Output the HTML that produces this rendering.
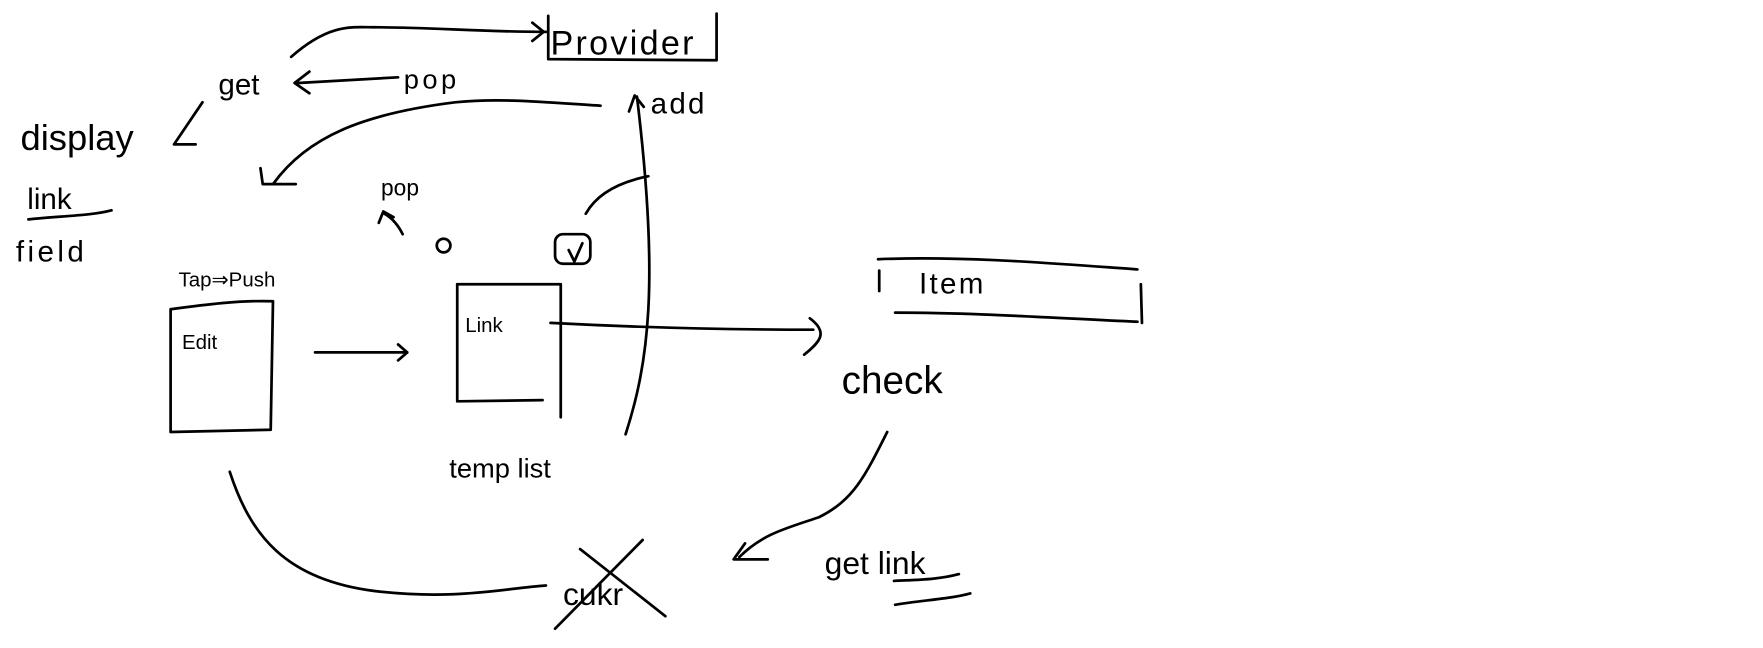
<!DOCTYPE html>
<html><head><meta charset="utf-8"><style>
html,body{margin:0;padding:0;background:#fff;}
svg{display:block}
text{font-family:"Liberation Sans",sans-serif;fill:#000;}
</style></head><body>
<svg width="1763" height="648" viewBox="0 0 1550 570" preserveAspectRatio="none" xmlns="http://www.w3.org/2000/svg">
<g fill="none" stroke="#000" stroke-width="2.4" stroke-linecap="round" stroke-linejoin="round">
<!-- Provider box -->
<path d="M482 14 L482 52 L630 53 L630 12"/>
<!-- arrow to Provider -->
<path d="M256 50 C290 20 310 24 330 24 C380 24 420 28 480 28"/>
<path d="M468 20 L478 28 L468 36"/>
<!-- pop -> get -->
<path d="M350 68 L262 73"/>
<path d="M272 63 L259 73 L272 82"/>
<!-- get -> display -->
<path d="M178 90 L153 127 L172 127"/>
<!-- add -> down-left curve -->
<path d="M528 93 C480 90 440 86 400 90 C320 100 270 120 240 162"/>
<path d="M229 148 L231 162 L260 162"/>
<!-- add arrow up -->
<path d="M550 382 C570 320 580 250 560 85"/>
<path d="M553 98 L558 84 L566 94"/>
<!-- checkbox curve -->
<path d="M515 188 C525 170 545 160 570 155"/>
<!-- link underline -->
<path d="M25 193 C50 190 80 190 98 185"/>
<!-- pop small arrow -->
<path d="M354 206 C350 198 345 192 338 188"/>
<path d="M333 196 L337 186 L346 191"/>
<!-- small circle -->
<circle cx="390" cy="216" r="6"/>
<!-- checkbox -->
<rect x="488" y="206" width="31" height="26" rx="7"/>
<path d="M500 220 L505 230 L512 214"/>
<!-- Edit box -->
<path d="M150 272 L150 380 L238 378 L240 265 C210 264 180 268 150 272"/>
<!-- Edit -> Link arrow -->
<path d="M277 310 L358 310"/>
<path d="M350 303 L358 310 L350 317"/>
<!-- Link box -->
<path d="M402 250 L402 352"/>
<path d="M402 250 L493 250 L493 367"/>
<path d="M402 353 L477 352"/>
<!-- Link -> Check line -->
<path d="M484 284 C560 288 640 290 715 290"/>
<path d="M712 280 C728 292 722 300 707 312"/>
<!-- Item -->
<path d="M772 228 C850 225 930 232 1000 237"/>
<path d="M773 238 L773 256"/>
<path d="M787 275 C860 275 930 280 1000 283"/>
<path d="M1003 250 L1004 284"/>
<!-- check -> cukr curve -->
<path d="M780 380 C760 420 750 440 720 455 C690 465 670 470 650 490"/>
<path d="M655 478 L645 492 L675 492"/>
<!-- get link underlines -->
<path d="M786 511 C805 510 825 510 843 505"/>
<path d="M787 532 C810 528 835 527 853 522"/>
<!-- bottom left curve -->
<path d="M202 415 C220 470 250 510 330 520 C400 528 440 518 480 515"/>
<!-- X -->
<path d="M488 553 L565 475"/>
<path d="M510 483 L585 542"/>
</g>
<text x="484" y="48" font-size="30" letter-spacing="2">Provider</text>
<text x="192" y="83" font-size="26">get</text>
<text x="355" y="78" font-size="24" letter-spacing="3">pop</text>
<text x="572" y="100" font-size="26" letter-spacing="2">add</text>
<text x="18" y="132" font-size="32">display</text>
<text x="24" y="184" font-size="26">link</text>
<text x="14" y="230" font-size="26" letter-spacing="3">field</text>
<text x="335" y="172" font-size="20">pop</text>
<text x="157" y="252" font-size="18">Tap⇒Push</text>
<text x="160" y="307" font-size="18">Edit</text>
<text x="409" y="292" font-size="18">Link</text>
<text x="808" y="258" font-size="26" letter-spacing="2">Item</text>
<text x="740" y="346" font-size="34">check</text>
<text x="395" y="420" font-size="24">temp list</text>
<text x="725" y="505" font-size="28">get link</text>
<text x="495" y="532" font-size="28">cukr</text>
</svg>
</body></html>
